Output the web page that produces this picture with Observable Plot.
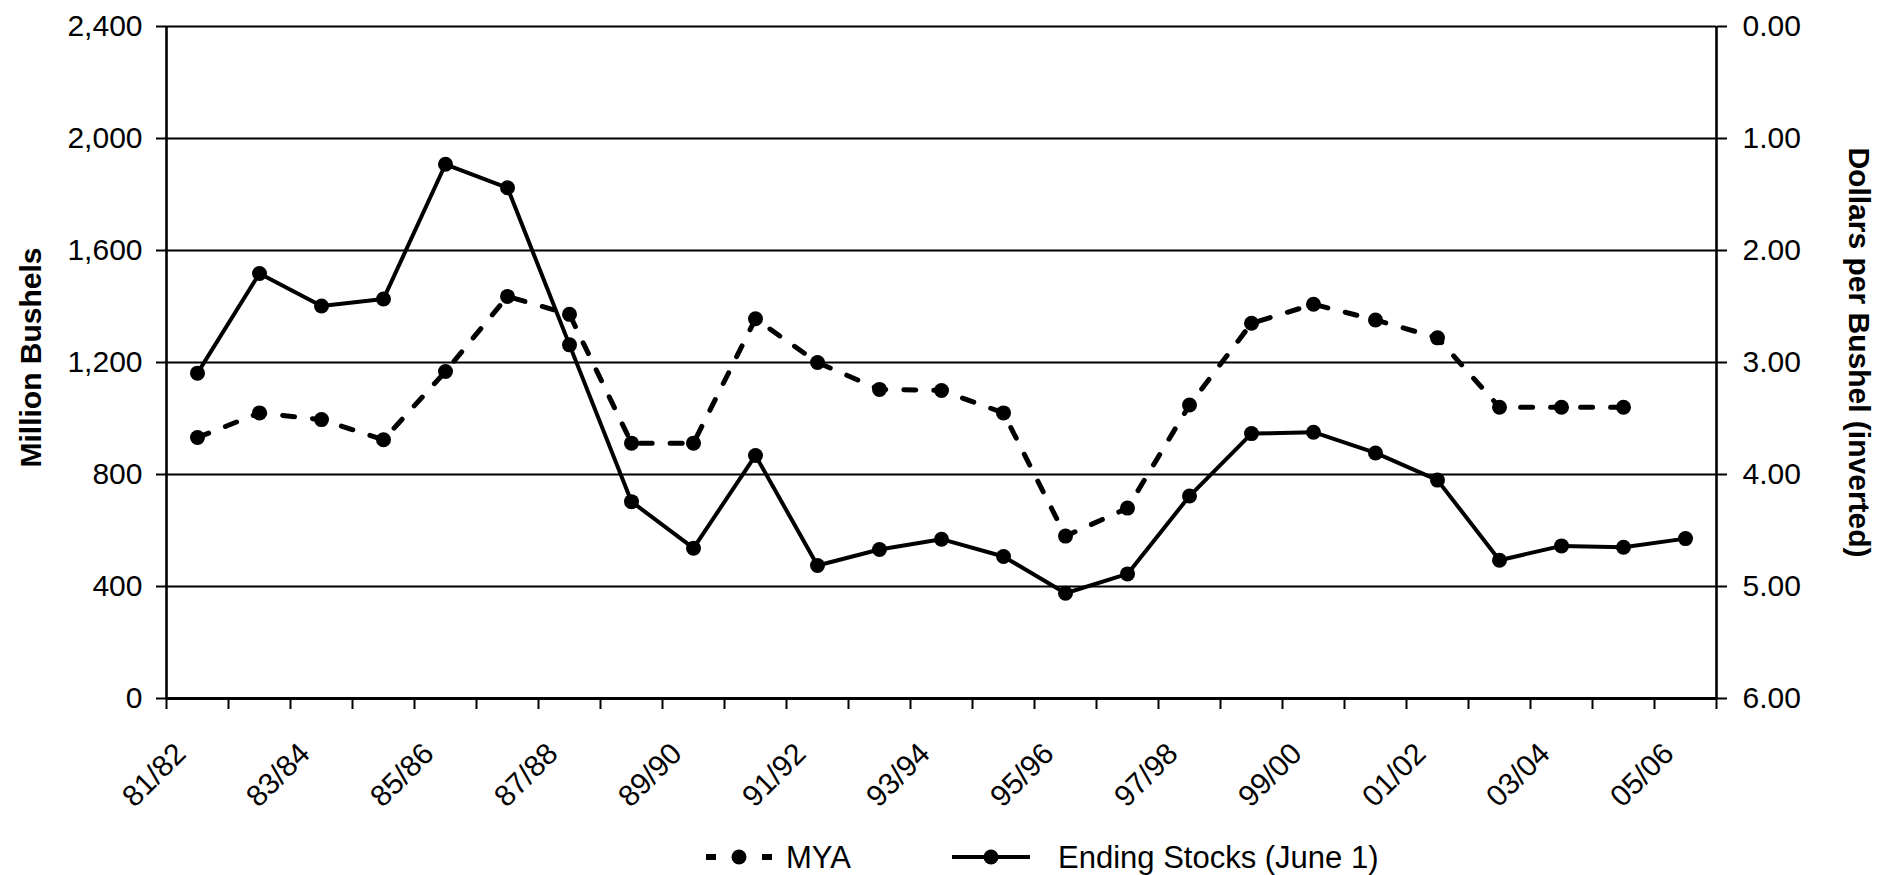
<!DOCTYPE html>
<html><head><meta charset="utf-8">
<script src="https://cdn.jsdelivr.net/npm/d3@7"></script>
<script src="https://cdn.jsdelivr.net/npm/@observablehq/plot@0.6"></script>
<style>
html,body{margin:0;padding:0;background:#fff;overflow:hidden;}
body{font-family:"Liberation Sans",Arial,sans-serif;color:#000;}
#chart svg, #legend svg{display:block;}
</style></head><body>
<div id="chart"></div>
<div id="legend"></div>
<script>
// ---- data ----
const seasons = ["81/82","82/83","83/84","84/85","85/86","86/87","87/88","88/89","89/90","90/91",
  "91/92","92/93","93/94","94/95","95/96","96/97","97/98","98/99","99/00","00/01",
  "01/02","02/03","03/04","04/05","05/06"];
const endingStocks = [1162,1518,1402,1427,1908,1824,1263,703,537,868,
  475,532,569,507,376,445,723,946,951,877,
  780,494,545,540,571];
const myaPrice = [3.67,3.45,3.51,3.69,3.08,2.41,2.57,3.72,3.72,2.61,
  3.00,3.24,3.25,3.45,4.55,4.30,3.38,2.65,2.48,2.62,
  2.78,3.40,3.40,3.40];
const leftTicks = [0,400,800,1200,1600,2000,2400];
const rightTicks = [0,1,2,3,4,5,6];
const seriesNames = ["MYA","Ending Stocks (June 1)"];
const leftTitle = "Million Bushels";
const rightTitle = "Dollars per Bushel (inverted)";

// ---- derived ----
const yMax = leftTicks[leftTicks.length-1];
const pMax = rightTicks[rightTicks.length-1];
const toY = p => (pMax - p) * yMax / pMax;   // inverted price axis mapped onto left scale
const fromY = v => pMax - v * pMax / yMax;
const stockData = endingStocks.map((v,i)=>({i, season: seasons[i], v}));
const priceData = myaPrice.map((p,i)=>({i, season: seasons[i], p}));
const labelIdx = seasons.map((s,i)=>i).filter(i=>i%2===0);

const W = 1877, H = 820;
const FONT = "Liberation Sans, Arial, sans-serif";

const chart = Plot.plot({
  width: W, height: H,
  marginTop: 26, marginBottom: H-698, marginLeft: 166, marginRight: W-1716,
  style: {fontFamily: FONT, fontSize: "30px", color: "#000", background: "#fff", overflow: "visible"},
  x: {type: "linear", domain: [0, seasons.length], axis: null},
  y: {domain: [0, yMax], axis: null},
  marks: [
    Plot.ruleY(leftTicks.slice(1), {stroke: "#000", strokeWidth: 2}),
    Plot.axisY({ticks: leftTicks, tickFormat: d3.format(","), anchor: "left", tickSize: 10, tickPadding: 14, label: null, fontSize: 30, strokeWidth: 2}),
    Plot.axisY({ticks: rightTicks.map(toY), tickFormat: v => fromY(v).toFixed(2), anchor: "right", tickSize: 10, tickPadding: 16, label: null, fontSize: 30, strokeWidth: 2}),
    Plot.ruleX([0, seasons.length], {stroke: "#000", strokeWidth: 2.6}),
    Plot.ruleY([0], {stroke: "#000", strokeWidth: 3}),
    Plot.axisX({ticks: d3.range(0, seasons.length + 1), tickFormat: () => "", tickSize: 11, label: null, strokeWidth: 2}),
    Plot.text(labelIdx, {x: i => i + 0.5, text: i => seasons[i], frameAnchor: "bottom", rotate: -45,
      textAnchor: "end", lineAnchor: "bottom", dy: 57, dx: -10, fontSize: 30, fill: "#000"}),
    Plot.line(priceData, {x: d => d.i + 0.5, y: d => toY(d.p), stroke: "#000", strokeWidth: 5, strokeDasharray: "12,18"}),
    Plot.dot(priceData, {x: d => d.i + 0.5, y: d => toY(d.p), r: 7.5, fill: "#000", stroke: "none"}),
    Plot.line(stockData, {x: d => d.i + 0.5, y: "v", stroke: "#000", strokeWidth: 4}),
    Plot.dot(stockData, {x: d => d.i + 0.5, y: "v", r: 7.5, fill: "#000", stroke: "none"}),
    Plot.text([leftTitle], {frameAnchor: "left", rotate: -90, dx: -126, dy: -5, lineAnchor: "bottom",
      textAnchor: "middle", fontSize: 30, fontWeight: "bold", fill: "#000"}),
    Plot.text([rightTitle], {frameAnchor: "right", rotate: 90, dx: 132, dy: -10, lineAnchor: "bottom",
      textAnchor: "middle", fontSize: 30, fontWeight: "bold", fill: "#000"})
  ]
});
document.getElementById("chart").appendChild(chart);

// ---- legend (below the plot) ----
const lg = d3.select("#legend").append("svg").attr("width", W).attr("height", 55)
  .style("font-family", FONT);
const cy = 37;
// MYA: dashed sample
const g1 = lg.append("g");
g1.append("line").attr("x1", 706).attr("x2", 772).attr("y1", cy).attr("y2", cy)
  .attr("stroke", "#000").attr("stroke-width", 6).attr("stroke-dasharray", "10,46");
g1.append("circle").attr("cx", 739).attr("cy", cy).attr("r", 7.5).attr("fill", "#000");
g1.append("text").attr("x", 786).attr("y", cy).attr("dominant-baseline", "central")
  .attr("font-size", 31).text(seriesNames[0]);
// Ending stocks: solid sample
const g2 = lg.append("g");
g2.append("line").attr("x1", 952).attr("x2", 1030).attr("y1", cy).attr("y2", cy)
  .attr("stroke", "#000").attr("stroke-width", 4);
g2.append("circle").attr("cx", 991).attr("cy", cy).attr("r", 7.5).attr("fill", "#000");
g2.append("text").attr("x", 1058).attr("y", cy).attr("dominant-baseline", "central")
  .attr("font-size", 31).text(seriesNames[1]);
</script>
</body></html>
